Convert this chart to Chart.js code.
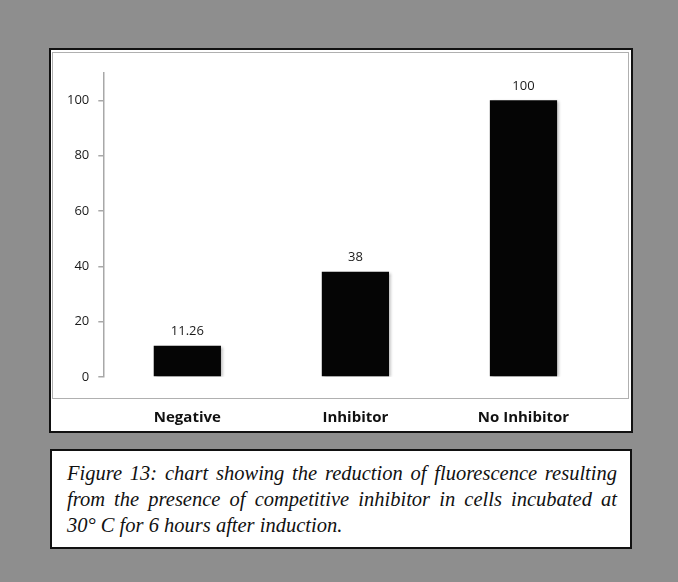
<!DOCTYPE html>
<html>
<head>
<meta charset="utf-8">
<script src="https://cdn.jsdelivr.net/npm/chart.js@4/dist/chart.umd.min.js"></script>
<style>
    html, body { margin: 0; padding: 0; }
    body { width: 678px; height: 582px; background: #8e8e8e; position: relative; overflow: hidden; }
    .caixa { position: absolute; left: 49px; top: 48px; width: 584px; height: 385px; box-sizing: border-box; border: 2px solid #111; background: #fff; }
    .painel { position: absolute; left: 52px; top: 52px; width: 577px; height: 347px; box-sizing: border-box; border: 1.5px solid #b0b0b0; }
    #wrap { position: absolute; left: 51px; top: 50px; width: 580px; height: 381px; }
    .legenda { position: absolute; left: 50px; top: 449px; width: 582px; height: 100px; box-sizing: border-box; border: 2px solid #111; background: #fff;
        padding: 8.5px 13px 0 15px; font-family: "Liberation Serif", "Times New Roman", serif; font-style: italic; font-size: 20.5px; line-height: 26px;
        color: #111; }
    .legenda div { white-space: nowrap; text-align: justify; text-align-last: justify; }
    .legenda div.ultima { text-align: left; text-align-last: left; }
</style>
</head>
<body>
<div class="caixa"></div>
<div class="painel"></div>
<div id="wrap"><canvas id="grafico" width="580" height="381"></canvas></div>
<div class="legenda">
    <div>Figure 13: chart showing the reduction of fluorescence resulting</div>
    <div>from the presence of competitive inhibitor in cells incubated at</div>
    <div class="ultima">30° C for 6 hours after induction.</div>
</div>

<script>
const categorias = ["Negative", "Inhibitor", "No Inhibitor"];
const valores = [11.26, 38, 100];
const rotulos = ["11.26", "38", "100"];
const ticksY = [0, 20, 40, 60, 80, 100];

// rótulos de valor acima de cada barra
const pluginRotulos = {
    id: "rotulos",
    beforeDatasetsDraw(chart) {
        const ctx = chart.ctx;
        ctx.save();
        ctx.shadowColor = "rgba(0,0,0,0.3)";
        ctx.shadowBlur = 3;
        ctx.shadowOffsetX = 2;
        ctx.shadowOffsetY = 1;
    },
    afterDatasetsDraw(chart) {
        const ctx = chart.ctx;
        ctx.restore();
        const meta = chart.getDatasetMeta(0);
        ctx.save();
        ctx.font = "13px 'Open Sans'";
        ctx.fillStyle = "#1a1a1a";
        ctx.textAlign = "center";
        ctx.textBaseline = "alphabetic";
        meta.data.forEach((barra, i) => {
            ctx.fillText(rotulos[i], barra.x, barra.y - 10.5);
        });
        ctx.restore();
    }
};

const ctx = document.getElementById("grafico").getContext("2d");
new Chart(ctx, {
    type: "bar",
    data: {
        labels: categorias,
        datasets: [{
            data: valores,
            backgroundColor: "#050505",
            borderWidth: 0,
            barPercentage: 0.4,
            categoryPercentage: 1
        }]
    },
    options: {
        responsive: false,
        animation: false,
        layout: { padding: { top: 22.6, right: 23.5, left: 0, bottom: 0 } },
        plugins: {
            legend: { display: false },
            tooltip: { enabled: false }
        },
        scales: {
            x: {
                grid: { display: false, drawTicks: false },
                border: { display: false },
                ticks: {
                    color: "#111",
                    font: { family: "'Open Sans'", size: 15, weight: "bold" },
                    padding: 32,
                    maxRotation: 0
                },
                afterFit: scale => { scale.height = 54; }
            },
            y: {
                min: 0,
                max: 110,
                afterBuildTicks: axis => {
                    axis.ticks = ticksY.map(v => ({ value: v }));
                },
                afterFit: scale => { scale.width = 52.3; },
                grid: {
                    drawOnChartArea: false,
                    drawTicks: true,
                    tickLength: 5,
                    color: "#a8a8a8",
                    lineWidth: 1.5
                },
                border: { display: true, color: "#a8a8a8", width: 1.5 },
                ticks: {
                    color: "#1a1a1a",
                    font: { family: "'Open Sans'", size: 13 },
                    padding: 9
                }
            }
        }
    },
    plugins: [pluginRotulos]
});
</script>
</body>
</html>
